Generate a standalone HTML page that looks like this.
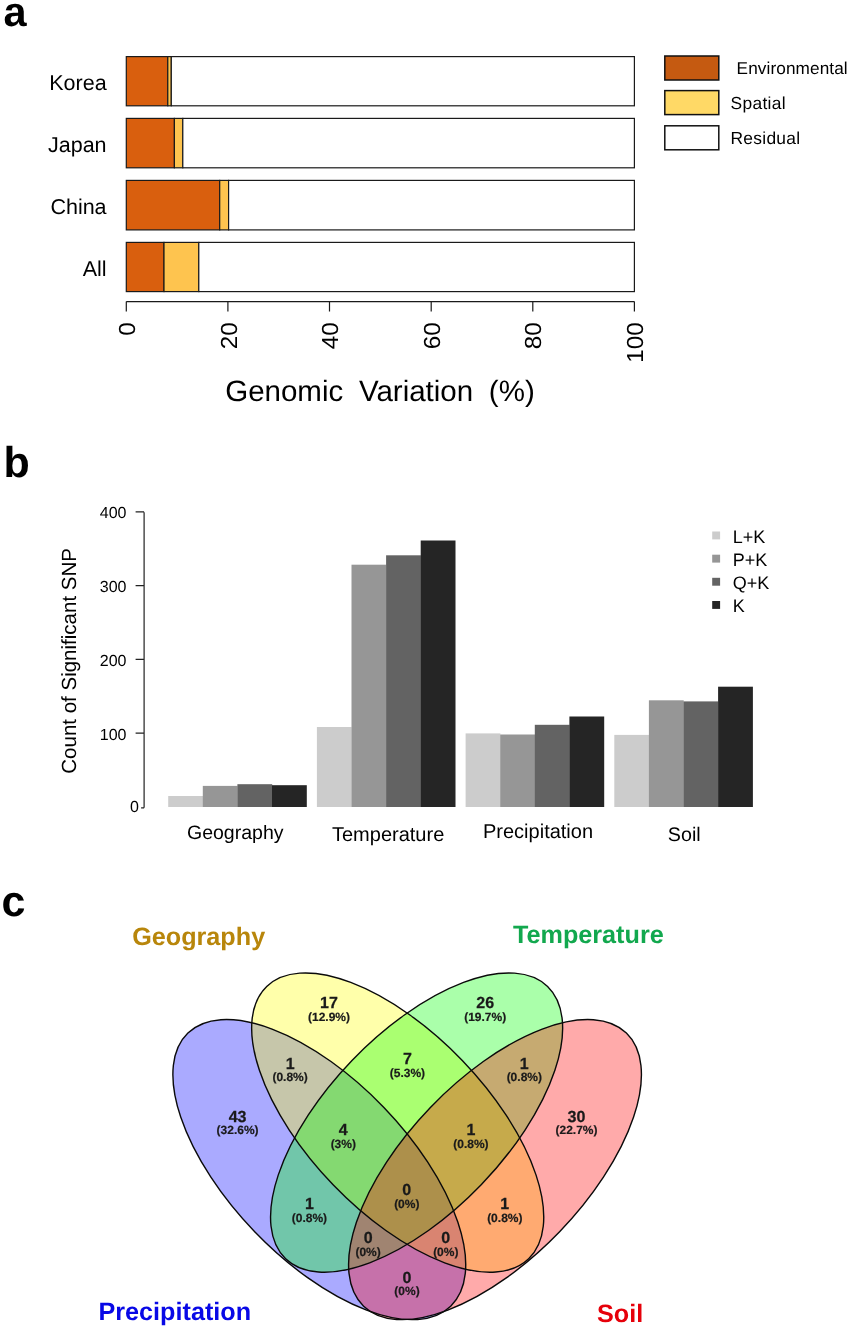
<!DOCTYPE html>
<html lang="en"><head><meta charset="utf-8"><title>Genomic variation partitioning, SNP counts and Venn diagram</title>
<style>
html,body{margin:0;padding:0;background:#fff;}
body{width:850px;height:1328px;overflow:hidden;}
svg{display:block;}
svg text{font-family:"Liberation Sans", Arial, Helvetica, sans-serif;fill:#000;text-rendering:geometricPrecision;}
.pl{font-weight:bold;font-size:43px;fill:#000;}
.ya{font-size:21.5px;}
.xt{font-size:23.2px;}
.lg{font-size:17px;}
.bt{font-size:16px;}
.bx{fill:#000;}
.bl{font-size:18px;}
.vn{font-weight:bold;font-size:16px;fill:#1a1a1a;stroke:#1a1a1a;stroke-width:0.25px;text-anchor:middle;}
.vp{font-weight:bold;font-size:12px;fill:#1a1a1a;stroke:#1a1a1a;stroke-width:0.2px;text-anchor:middle;}
.vs{font-weight:bold;font-size:25.2px;}
</style></head><body>
<svg width="850" height="1328" viewBox="0 0 850 1328">
<rect x="0" y="0" width="850" height="1328" fill="#ffffff"/>
<g id="panel-a">
<text class="pl" x="3.4" y="25.6" style="font-size:41.5px">a</text>
<rect x="126.3" y="56.6" width="41.5" height="49.2" fill="#D95F0E" stroke="#1a1a1a" stroke-width="1.2"/>
<rect x="167.8" y="56.6" width="3.5" height="49.2" fill="#FEC44F" stroke="#1a1a1a" stroke-width="1.2"/>
<rect x="171.3" y="56.6" width="463.1" height="49.2" fill="#ffffff" stroke="#1a1a1a" stroke-width="1.2"/>
<text class="ya" x="106.6" y="90.0" text-anchor="end">Korea</text>
<rect x="126.3" y="118.4" width="48.1" height="49.4" fill="#D95F0E" stroke="#1a1a1a" stroke-width="1.2"/>
<rect x="174.4" y="118.4" width="8.4" height="49.4" fill="#FEC44F" stroke="#1a1a1a" stroke-width="1.2"/>
<rect x="182.8" y="118.4" width="451.6" height="49.4" fill="#ffffff" stroke="#1a1a1a" stroke-width="1.2"/>
<text class="ya" x="106.6" y="151.9" text-anchor="end">Japan</text>
<rect x="126.3" y="180.4" width="93.4" height="49.5" fill="#D95F0E" stroke="#1a1a1a" stroke-width="1.2"/>
<rect x="219.7" y="180.4" width="8.9" height="49.5" fill="#FEC44F" stroke="#1a1a1a" stroke-width="1.2"/>
<rect x="228.6" y="180.4" width="405.8" height="49.5" fill="#ffffff" stroke="#1a1a1a" stroke-width="1.2"/>
<text class="ya" x="106.6" y="214.0" text-anchor="end">China</text>
<rect x="126.3" y="242.4" width="37.7" height="49.2" fill="#D95F0E" stroke="#1a1a1a" stroke-width="1.2"/>
<rect x="164.0" y="242.4" width="34.8" height="49.2" fill="#FEC44F" stroke="#1a1a1a" stroke-width="1.2"/>
<rect x="198.8" y="242.4" width="435.6" height="49.2" fill="#ffffff" stroke="#1a1a1a" stroke-width="1.2"/>
<text class="ya" x="106.6" y="275.8" text-anchor="end">All</text>
<path d="M126.3 301.6H634.4M126.3 301.6v10M227.9 301.6v10M329.5 301.6v10M431.2 301.6v10M532.8 301.6v10M634.4 301.6v10" fill="none" stroke="#1a1a1a" stroke-width="1.2"/>
<text class="xt" transform="translate(134.9 322.2) rotate(-90) scale(1.05 1)" text-anchor="end">0</text>
<text class="xt" transform="translate(236.5 322.2) rotate(-90) scale(1.05 1)" text-anchor="end">20</text>
<text class="xt" transform="translate(338.1 322.2) rotate(-90) scale(1.05 1)" text-anchor="end">40</text>
<text class="xt" transform="translate(439.8 322.2) rotate(-90) scale(1.05 1)" text-anchor="end">60</text>
<text class="xt" transform="translate(541.4 322.2) rotate(-90) scale(1.05 1)" text-anchor="end">80</text>
<text class="xt" transform="translate(643.0 322.2) rotate(-90) scale(1.05 1)" text-anchor="end">100</text>
<text x="225.2" y="401" font-size="29.5px" word-spacing="7.5px">Genomic Variation (%)</text>
<rect x="664.8" y="56" width="54" height="24" fill="#C55A11" stroke="#111" stroke-width="1.5"/>
<text x="736.6" y="74.2" font-size="17.2px" letter-spacing="0.1px">Environmental</text>
<rect x="664.8" y="90.6" width="54" height="24" fill="#FFD966" stroke="#111" stroke-width="1.5"/>
<text x="730.6" y="108.7" font-size="17.4px" letter-spacing="0.3px">Spatial</text>
<rect x="664.8" y="125.8" width="54" height="24" fill="#ffffff" stroke="#111" stroke-width="1.5"/>
<text x="730.4" y="143.8" font-size="17.4px" letter-spacing="0.3px">Residual</text>
</g>
<g id="panel-b">
<text class="pl" x="3.5" y="477.4">b</text>
<path d="M144.1 512.2V807.8M144.1 733.2h-8.5M144.1 659.4h-8.5M144.1 585.6h-8.5M144.1 511.8h-8.5M144.1 807.8h-3" fill="none" stroke="#222" stroke-width="1.2"/>
<text class="bt" x="126.5" y="739.8" text-anchor="end">100</text>
<text class="bt" x="126.5" y="666.0" text-anchor="end">200</text>
<text class="bt" x="126.5" y="592.2" text-anchor="end">300</text>
<text class="bt" x="126.5" y="518.4" text-anchor="end">400</text>
<text class="bt" x="138.8" y="811.6" text-anchor="end" font-size="14.5px">0</text>
<text transform="translate(76 773.7) rotate(-90)" font-size="20.5px">Count of Significant SNP</text>
<rect x="168.2" y="796.0" width="34.8" height="11.0" fill="#CCCCCC"/>
<rect x="202.8" y="785.9" width="34.8" height="21.1" fill="#969696"/>
<rect x="237.4" y="784.2" width="34.8" height="22.8" fill="#636363"/>
<rect x="272.0" y="785.2" width="34.8" height="21.8" fill="#252525"/>
<rect x="316.9" y="727.0" width="34.8" height="80.0" fill="#CCCCCC"/>
<rect x="351.5" y="564.7" width="34.8" height="242.3" fill="#969696"/>
<rect x="386.1" y="555.3" width="34.8" height="251.7" fill="#636363"/>
<rect x="420.7" y="540.5" width="34.8" height="266.5" fill="#252525"/>
<rect x="465.6" y="733.4" width="34.8" height="73.6" fill="#CCCCCC"/>
<rect x="500.2" y="734.5" width="34.8" height="72.5" fill="#969696"/>
<rect x="534.8" y="724.8" width="34.8" height="82.2" fill="#636363"/>
<rect x="569.4" y="716.5" width="34.8" height="90.5" fill="#252525"/>
<rect x="614.3" y="734.9" width="34.8" height="72.1" fill="#CCCCCC"/>
<rect x="648.9" y="700.3" width="34.8" height="106.7" fill="#969696"/>
<rect x="683.5" y="701.4" width="34.8" height="105.6" fill="#636363"/>
<rect x="718.1" y="686.7" width="34.8" height="120.3" fill="#252525"/>
<text class="bx" x="187.0" y="839.2" font-size="19.5px">Geography</text>
<text class="bx" x="332.0" y="840.9" font-size="20.0px">Temperature</text>
<text class="bx" x="483.0" y="838.3" font-size="20.0px">Precipitation</text>
<text class="bx" x="667.8" y="840.8" font-size="19.7px">Soil</text>
<rect x="712.2" y="531.5" width="7.9" height="7.9" fill="#CCCCCC"/>
<text class="bl" x="732.7" y="542.7">L+K</text>
<rect x="712.2" y="554.7" width="7.9" height="7.9" fill="#969696"/>
<text class="bl" x="732.7" y="565.8">P+K</text>
<rect x="712.2" y="577.8" width="7.9" height="7.9" fill="#636363"/>
<text class="bl" x="732.7" y="588.8">Q+K</text>
<rect x="712.2" y="601.0" width="7.9" height="7.9" fill="#252525"/>
<text class="bl" x="732.7" y="611.9">K</text>
</g>
<g id="panel-c">
<text class="pl" x="1.5" y="915.6">c</text>
<ellipse cx="319.3" cy="1169.6" rx="189.5" ry="89.65" transform="rotate(46.1 319.3 1169.6)" fill="#0000FF" fill-opacity="0.333"/>
<ellipse cx="397.7" cy="1122.6" rx="188.9" ry="89.65" transform="rotate(46.1 397.7 1122.6)" fill="#FFFF00" fill-opacity="0.333"/>
<ellipse cx="416.6" cy="1122.6" rx="188.9" ry="89.65" transform="rotate(-46.1 416.6 1122.6)" fill="#00FF00" fill-opacity="0.333"/>
<ellipse cx="495.0" cy="1169.6" rx="189.5" ry="89.65" transform="rotate(-46.1 495.0 1169.6)" fill="#FF0000" fill-opacity="0.333"/>
<ellipse cx="319.3" cy="1169.6" rx="189.5" ry="89.65" transform="rotate(46.1 319.3 1169.6)" fill="none" stroke="#0a0a0a" stroke-width="1.4"/>
<ellipse cx="397.7" cy="1122.6" rx="188.9" ry="89.65" transform="rotate(46.1 397.7 1122.6)" fill="none" stroke="#0a0a0a" stroke-width="1.4"/>
<ellipse cx="416.6" cy="1122.6" rx="188.9" ry="89.65" transform="rotate(-46.1 416.6 1122.6)" fill="none" stroke="#0a0a0a" stroke-width="1.4"/>
<ellipse cx="495.0" cy="1169.6" rx="189.5" ry="89.65" transform="rotate(-46.1 495.0 1169.6)" fill="none" stroke="#0a0a0a" stroke-width="1.4"/>
<text class="vn" x="329" y="1007.8">17</text><text class="vp" x="329" y="1020.6">(12.9%)</text>
<text class="vn" x="485.2" y="1007.8">26</text><text class="vp" x="485.2" y="1020.6">(19.7%)</text>
<text class="vn" x="290.1" y="1068.6">1</text><text class="vp" x="290.1" y="1081.4">(0.8%)</text>
<text class="vn" x="407.4" y="1064">7</text><text class="vp" x="407.4" y="1076.8">(5.3%)</text>
<text class="vn" x="524.3" y="1068.6">1</text><text class="vp" x="524.3" y="1081.4">(0.8%)</text>
<text class="vn" x="237.6" y="1121.5">43</text><text class="vp" x="237.6" y="1134.3">(32.6%)</text>
<text class="vn" x="576.5" y="1121.5">30</text><text class="vp" x="576.5" y="1134.3">(22.7%)</text>
<text class="vn" x="343.3" y="1135">4</text><text class="vp" x="343.3" y="1147.8">(3%)</text>
<text class="vn" x="470.9" y="1135">1</text><text class="vp" x="470.9" y="1147.8">(0.8%)</text>
<text class="vn" x="406.8" y="1194.8">0</text><text class="vp" x="406.8" y="1207.6">(0%)</text>
<text class="vn" x="309.4" y="1208.7">1</text><text class="vp" x="309.4" y="1221.5">(0.8%)</text>
<text class="vn" x="504.8" y="1208.7">1</text><text class="vp" x="504.8" y="1221.5">(0.8%)</text>
<text class="vn" x="368.1" y="1243.2">0</text><text class="vp" x="368.1" y="1256.0">(0%)</text>
<text class="vn" x="445.8" y="1243.2">0</text><text class="vp" x="445.8" y="1256.0">(0%)</text>
<text class="vn" x="407" y="1282.6">0</text><text class="vp" x="407" y="1295.4">(0%)</text>
<text class="vs" x="132.2" y="945" style="fill:#B8860B">Geography</text>
<text class="vs" x="513" y="943.4" style="fill:#12A84E">Temperature</text>
<text class="vs" x="98.5" y="1320.3" style="fill:#0808E6">Precipitation</text>
<text class="vs" x="597" y="1321.9" style="fill:#E6000A">Soil</text>
</g>
</svg>
</body></html>
